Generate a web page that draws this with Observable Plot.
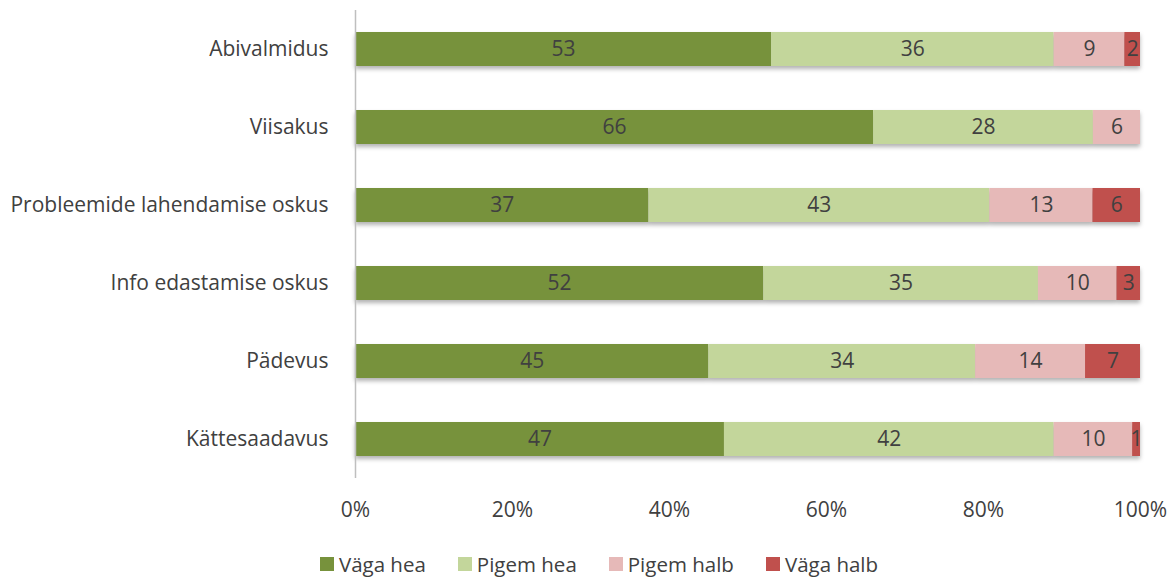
<!DOCTYPE html>
<html>
<head>
<meta charset="utf-8">
<script src="https://cdn.jsdelivr.net/npm/d3@7"></script>
<script src="https://cdn.jsdelivr.net/npm/@observablehq/plot@0.6"></script>
<style>
  body { margin: 0; background: #fff; font-family: "Open Sans", sans-serif; }
  #legend { display: flex; justify-content: center; gap: 32px; margin-top: 20px; font-size: 20.5px; color: #404040; padding-left: 24px; }
  #legend .item { display: flex; align-items: center; }
  #legend .sw { width: 14px; height: 14px; margin-right: 5px; }
</style>
</head>
<body>
<div id="chart"></div>
<div id="legend"></div>
<script>
const categories = ["Abivalmidus", "Viisakus", "Probleemide lahendamise oskus", "Info edastamise oskus", "Pädevus", "Kättesaadavus"];
const seriesNames = ["Väga hea", "Pigem hea", "Pigem halb", "Väga halb"];
const seriesColors = ["#77923C", "#C3D69B", "#E6B9B8", "#C0504D"];
const vagaHea = [53, 66, 37, 52, 45, 47];
const pigemHea = [36, 28, 43, 35, 34, 42];
const pigemHalb = [9, 6, 13, 10, 14, 10];
const vagaHalb = [2, 0, 6, 3, 7, 1];
const xTicks = [0, 0.2, 0.4, 0.6, 0.8, 1];

const seriesValues = [vagaHea, pigemHea, pigemHalb, vagaHalb];
const data = [];
seriesNames.forEach((s, si) => {
  categories.forEach((c, ci) => {
    data.push({category: c, series: s, value: seriesValues[si][ci]});
  });
});

const stackOpts = {x: "value", y: "category", z: "series", offset: "normalize", order: seriesNames};

const plot = Plot.plot({
  width: 1174,
  height: 530,
  marginLeft: 355,
  marginRight: 34,
  marginTop: 10,
  marginBottom: 52,
  style: {fontFamily: "'Open Sans', sans-serif", fontSize: "20px", color: "#404040", background: "#fff"},
  x: {domain: [0, 1]},
  y: {domain: categories, paddingInner: 0.564, paddingOuter: 0.282},
  color: {domain: seriesNames, range: seriesColors},
  marks: [
    Plot.barX(data, Plot.stackX({...stackOpts, fill: "series"})),
    Plot.text(data.filter(d => d.value > 0), Plot.stackX({...stackOpts, text: d => String(d.value), fill: "#404040", fontSize: 21})),
    Plot.ruleX([0], {stroke: "#BFBFBF", strokeWidth: 1.5}),
    Plot.axisY({tickSize: 0, tickPadding: 27, fontSize: 21, label: null}),
    Plot.axisX({ticks: xTicks, tickFormat: d => Math.round(d * 100) + "%", tickSize: 0, tickPadding: 24, fontSize: 21, label: null})
  ]
});
const barG = plot.querySelector('g[aria-label="bar"]');
if (barG) barG.style.filter = "drop-shadow(0px 3px 2px rgba(0,0,0,0.3))";
document.getElementById("chart").appendChild(plot);

const legend = document.getElementById("legend");
seriesNames.forEach((s, i) => {
  const item = document.createElement("div");
  item.className = "item";
  const sw = document.createElement("span");
  sw.className = "sw";
  sw.style.background = seriesColors[i];
  const t = document.createElement("span");
  t.textContent = s;
  item.appendChild(sw);
  item.appendChild(t);
  legend.appendChild(item);
});
</script>
</body>
</html>
